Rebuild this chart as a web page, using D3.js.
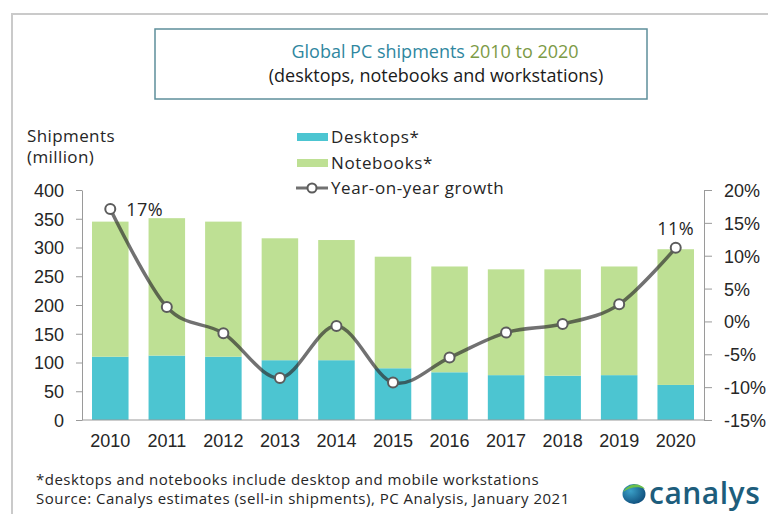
<!DOCTYPE html>
<html>
<head>
<meta charset="utf-8">
<script src="https://cdn.jsdelivr.net/npm/d3@7"></script>
<style>
    body { margin: 0; background: #fff; }
    svg { font-family: "Open Sans", sans-serif; }
    .axis path, .axis line { stroke: #9a9a9a; }
    .axis text { font-size: 18px; fill: #262626; }
</style>
</head>
<body>
<svg id="chart" width="768" height="514"></svg>
<script>
const years = ['2010', '2011', '2012', '2013', '2014', '2015', '2016', '2017', '2018', '2019', '2020'];
const desktops = [110, 112, 110, 104, 104, 90, 83, 78, 77, 78, 61];
const notebooks = [235, 239, 235, 212, 209, 194, 184, 184, 185, 189, 236];
const growth = [17.1, 2.2, -1.8, -8.6, -0.7, -9.3, -5.5, -1.7, -0.4, 2.6, 11.2];
const shipmentTicks = [0, 50, 100, 150, 200, 250, 300, 350, 400];
const growthTicks = [-15, -10, -5, 0, 5, 10, 15, 20];
const labelYears = ['2010', '2020'];
const labelTexts = ['17%', '11%'];

const DESKTOP = '#4cc5d1', NOTEBOOK = '#bee094', LINE = 'rgba(45,45,45,0.68)';

function makeChart(selector) {
    let chart = {};
    chart.root = d3.select(selector);

    chart.x = d3.scaleBand().domain(years).range([82, 704]).paddingInner(0.354).paddingOuter(0.177);
    chart.yLeft = d3.scaleLinear().domain([0, 400]).range([420, 190]);
    chart.yRight = d3.scaleLinear().domain([-15, 20]).range([420, 190]);

    // outer frame, cut off at right and bottom like the screenshot
    chart.root.append('path')
        .attr('d', 'M12,514 V14 H768')
        .attr('fill', 'none')
        .attr('stroke', '#cacaca')
        .attr('stroke-width', 2);

    // title box
    chart.root.append('rect')
        .attr('x', 155).attr('y', 29)
        .attr('width', 492).attr('height', 70)
        .attr('fill', 'none')
        .attr('stroke', '#5e8f9b')
        .attr('stroke-width', 1.5);
    let t1 = chart.root.append('text')
        .attr('x', 435).attr('y', 58)
        .attr('text-anchor', 'middle')
        .style('font-size', '18px');
    t1.append('tspan').attr('fill', '#2f87a0').text('Global PC shipments ');
    t1.append('tspan').attr('fill', '#7c9a45').text('2010 to 2020');
    chart.root.append('text')
        .attr('x', 436).attr('y', 82)
        .attr('text-anchor', 'middle')
        .attr('fill', '#1a1a1a')
        .style('font-size', '18px')
        .text('(desktops, notebooks and workstations)');

    // y title
    chart.root.append('text').attr('x', 27).attr('y', 142)
        .attr('fill', '#262626').style('font-size', '17px').style('letter-spacing', '0.4px').text('Shipments');
    chart.root.append('text').attr('x', 27).attr('y', 163)
        .attr('fill', '#262626').style('font-size', '17px').style('letter-spacing', '0.4px').text('(million)');

    drawBars(chart);
    drawAxes(chart);
    drawGrowth(chart);
    drawLegend(chart);
    drawFooter(chart);
    return chart;
}

function drawBars(chart) {
    let rows = years.map((year, i) => ({ year: year, desktops: desktops[i], notebooks: notebooks[i] }));
    let series = d3.stack().keys(['desktops', 'notebooks'])(rows);
    let colors = { desktops: DESKTOP, notebooks: NOTEBOOK };

    chart.root.append('g').selectAll('g')
        .data(series)
        .join('g')
        .attr('fill', d => colors[d.key])
        .selectAll('rect')
        .data(d => d)
        .join('rect')
        .attr('x', d => chart.x(d.data.year))
        .attr('width', chart.x.bandwidth())
        .attr('y', d => chart.yLeft(d[1]))
        .attr('height', d => chart.yLeft(d[0]) - chart.yLeft(d[1]));
}

function drawAxes(chart) {
    chart.root.append('g')
        .attr('class', 'axis')
        .attr('transform', 'translate(82,0)')
        .call(d3.axisLeft(chart.yLeft).tickValues(shipmentTicks).tickSize(6).tickSizeOuter(0).tickPadding(12))
        .selectAll('text').attr('dy', '0.36em');

    chart.root.append('g')
        .attr('class', 'axis')
        .attr('transform', 'translate(704,0)')
        .call(d3.axisRight(chart.yRight).tickValues(growthTicks).tickFormat(d => d + '%')
            .tickSize(8).tickSizeOuter(0).tickPadding(12))
        .selectAll('text').attr('dy', '0.36em');

    let bottom = chart.root.append('g')
        .attr('class', 'axis')
        .attr('transform', 'translate(0,420)')
        .call(d3.axisBottom(chart.x).tickSize(0).tickPadding(14));
    bottom.select('.domain').attr('d', 'M82,0H704');
}

function drawGrowth(chart) {
    let cx = year => chart.x(year) + chart.x.bandwidth() / 2;
    let points = years.map((year, i) => ({ year: year, value: growth[i] }));

    chart.root.append('path')
        .datum(points)
        .attr('fill', 'none')
        .attr('stroke', LINE)
        .attr('stroke-width', 3.5)
        .attr('d', d3.line()
            .x(d => cx(d.year))
            .y(d => chart.yRight(d.value))
            .curve(d3.curveCardinal));

    chart.root.append('g').selectAll('circle')
        .data(points)
        .join('circle')
        .attr('cx', d => cx(d.year))
        .attr('cy', d => chart.yRight(d.value))
        .attr('r', 5)
        .attr('fill', '#fff')
        .attr('stroke', '#5c5c5c')
        .attr('stroke-width', 2);

    // data labels for first and last year
    chart.root.append('g').selectAll('text')
        .data(labelYears)
        .join('text')
        .attr('x', (d, i) => i === 0 ? cx(d) + 16 : cx(d))
        .attr('y', (d, i) => {
            let v = growth[years.indexOf(d)];
            return i === 0 ? chart.yRight(v) + 7 : chart.yRight(v) - 13;
        })
        .attr('text-anchor', (d, i) => i === 0 ? 'start' : 'middle')
        .attr('fill', '#262626')
        .style('font-size', '18px')
        .style('letter-spacing', '0.5px')
        .text((d, i) => labelTexts[i]);
}

function drawLegend(chart) {
    let legend = chart.root.append('g')
        .style('font-size', '17px')
        .style('letter-spacing', '0.6px')
        .attr('fill', '#262626');
    let items = [
        { label: 'Desktops*', color: DESKTOP, y: 137 },
        { label: 'Notebooks*', color: NOTEBOOK, y: 163 },
        { label: 'Year-on-year growth', color: null, y: 188 }
    ];
    items.forEach(item => {
        if (item.color) {
            legend.append('rect')
                .attr('x', 297).attr('y', item.y - 4)
                .attr('width', 31).attr('height', 8)
                .attr('fill', item.color);
        } else {
            legend.append('line')
                .attr('x1', 296).attr('x2', 328)
                .attr('y1', item.y).attr('y2', item.y)
                .attr('stroke', LINE).attr('stroke-width', 3);
            legend.append('circle')
                .attr('cx', 312).attr('cy', item.y).attr('r', 4.5)
                .attr('fill', '#fff').attr('stroke', '#5c5c5c').attr('stroke-width', 2);
        }
        legend.append('text')
            .attr('x', 331).attr('y', item.y + 6)
            .text(item.label);
    });
}

function drawFooter(chart) {
    let footer = chart.root.append('g')
        .attr('fill', '#262626')
        .style('font-size', '15px')
        .style('letter-spacing', '0.5px');
    footer.append('text').attr('x', 36).attr('y', 485)
        .text('*desktops and notebooks include desktop and mobile workstations');
    footer.append('text').attr('x', 36).attr('y', 504)
        .text('Source: Canalys estimates (sell-in shipments), PC Analysis, January 2021');

    // canalys logo
    let defs = chart.root.append('defs');
    let grad = defs.append('radialGradient').attr('id', 'globe')
        .attr('cx', '0.35').attr('cy', '0.35').attr('r', '0.75');
    grad.append('stop').attr('offset', '0').attr('stop-color', '#3aa0c8');
    grad.append('stop').attr('offset', '1').attr('stop-color', '#0d4a78');
    let logo = chart.root.append('g');
    logo.append('ellipse')
        .attr('cx', 634).attr('cy', 494).attr('rx', 11.5).attr('ry', 10)
        .attr('fill', 'url(#globe)');
    logo.append('path')
        .attr('d', 'M623,492 C628,483 640,482 645,489 C638,486 630,487 623,492 Z')
        .attr('fill', '#6cc04a');
    logo.append('text')
        .attr('x', 649).attr('y', 504)
        .attr('fill', '#1d5d7c')
        .style('font-size', '30px')
        .style('font-weight', 600)
        .style('letter-spacing', '0.5px')
        .text('canalys');
}

makeChart('#chart');
</script>
</body>
</html>
